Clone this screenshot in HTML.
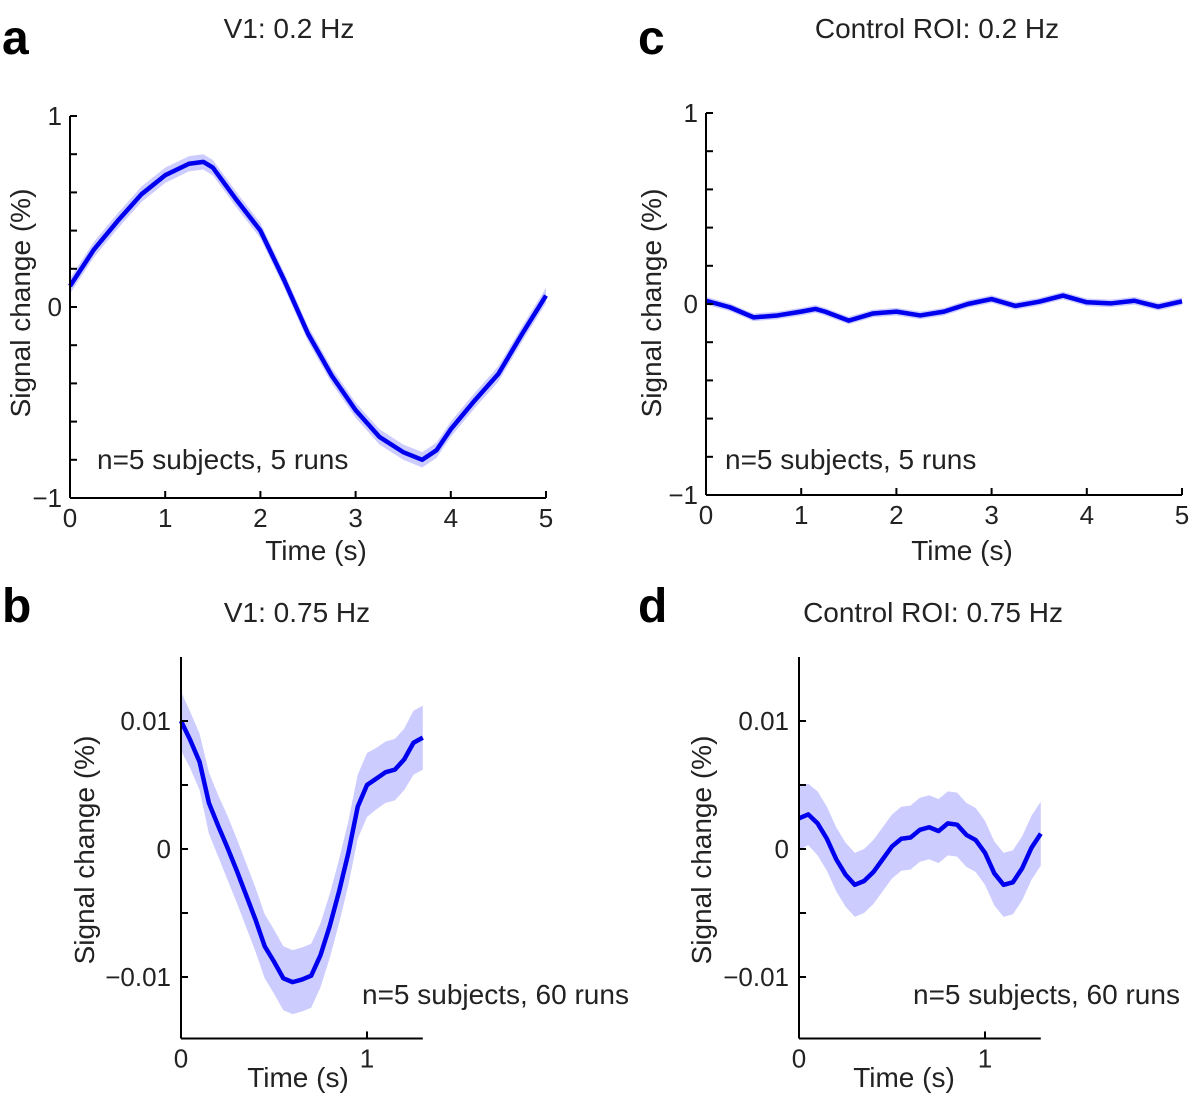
<!DOCTYPE html>
<html><head><meta charset="utf-8"><style>
body{margin:0;background:#fff;width:1198px;height:1102px;overflow:hidden}
svg text{font-family:"Liberation Sans",sans-serif;fill:#222}
</style></head><body>
<svg id="fig" width="1198" height="1102" xmlns="http://www.w3.org/2000/svg"></svg>
<script>
// Panel a (V1 0.2 Hz)
const aTime=[0,0.25,0.5,0.75,1.0,1.25,1.4,1.5,1.75,2.0,2.25,2.5,2.75,3.0,3.25,3.5,3.7,3.85,4.0,4.25,4.5,4.75,5.0];
const aMean=[0.11,0.30,0.45,0.59,0.69,0.75,0.76,0.73,0.56,0.40,0.14,-0.14,-0.36,-0.54,-0.68,-0.76,-0.80,-0.75,-0.64,-0.49,-0.35,-0.14,0.06];
const aErr=0.04;
// Panel c (Control 0.2 Hz)
const cTime=[0,0.25,0.5,0.75,1.0,1.15,1.25,1.5,1.75,2.0,2.25,2.5,2.75,3.0,3.25,3.5,3.75,4.0,4.25,4.5,4.75,5.0];
const cMean=[0.017,-0.017,-0.07,-0.06,-0.04,-0.026,-0.04,-0.087,-0.05,-0.04,-0.06,-0.04,0,0.026,-0.01,0.012,0.044,0.009,0.003,0.017,-0.014,0.014];
const cErr=0.02;
// Panel b (V1 0.75 Hz), units of %
const bTime=[0,0.05,0.1,0.15,0.2,0.25,0.3,0.35,0.4,0.45,0.5,0.55,0.6,0.65,0.7,0.75,0.8,0.85,0.9,0.95,1.0,1.05,1.1,1.15,1.2,1.25,1.3];
const bMean=[0.0100,0.0085,0.0068,0.0036,0.0018,0.0001,-0.0017,-0.0036,-0.0055,-0.0076,-0.0088,-0.0101,-0.0104,-0.0102,-0.0099,-0.0083,-0.0060,-0.0033,-0.0003,0.0033,0.0050,0.0055,0.0060,0.0062,0.0070,0.0083,0.0087];
const bErr=[0.0023,0.0022,0.0022,0.0024,0.0024,0.0025,0.0025,0.0025,0.0025,0.0025,0.0025,0.0025,0.0025,0.0025,0.0025,0.0025,0.0025,0.0025,0.0025,0.0025,0.0025,0.0024,0.0024,0.0024,0.0024,0.0025,0.0025];
// Panel d (Control 0.75 Hz)
const dTime=bTime;
const dMean=[0.0024,0.0027,0.0020,0.0008,-0.0008,-0.0020,-0.0028,-0.0025,-0.0018,-0.0008,0.0002,0.0008,0.0009,0.0015,0.0017,0.0014,0.0020,0.0019,0.0011,0.0007,-0.0003,-0.0019,-0.0028,-0.0026,-0.0015,0.0001,0.0012];
const dErr=[0.0025,0.0024,0.0025,0.0025,0.0025,0.0025,0.0025,0.0025,0.0025,0.0025,0.0025,0.0025,0.0025,0.0025,0.0025,0.0025,0.0025,0.0025,0.0025,0.0025,0.0025,0.0025,0.0025,0.0025,0.0025,0.0025,0.0025];
const bigYTicks=[-1,0,1];
const smallYTicks=[-0.01,0,0.01];

const NS="http://www.w3.org/2000/svg";
const svg=document.getElementById('fig');
function el(tag,attrs,parent){const e=document.createElementNS(NS,tag);for(const k in attrs)e.setAttribute(k,attrs[k]);(parent||svg).appendChild(e);return e;}
function txt(s,x,y,size,anchor,parent,extra){const t=el('text',Object.assign({x:x,y:y,'font-size':size,'text-anchor':anchor||'middle'},extra||{}),parent);t.textContent=s;return t;}
function fmt(v){if(v===0)return '0';return (v<0?'\u2212':'')+String(Math.abs(v));}

function panel(o){
  const g=el('g',{});
  
  
  const X=t=>o.x0+(t-o.tmin)*o.px;
  const Y=v=>o.yz-v*o.py;
  let up=[],lo=[];
  o.time.forEach((t,i)=>{const e=Array.isArray(o.err)?o.err[i]:o.err;up.push(X(t)+','+Y(o.mean[i]+e));lo.unshift(X(t)+','+Y(o.mean[i]-e));});
  const band=el('polygon',{points:up.concat(lo).join(' '),fill:'#ccccff',stroke:'none'},g);
  
  
  const line=el('polyline',{points:o.time.map((t,i)=>X(t)+','+Y(o.mean[i])).join(' '),fill:'none',stroke:'#0000ee','stroke-width':4.5,'stroke-linejoin':'round'},g);
  
  
  const ya=el('line',{x1:o.x0,y1:Y(o.ymax),x2:o.x0,y2:Y(o.ymin),stroke:'#000','stroke-width':2},g);
  
  
  const xa=el('line',{x1:o.x0,y1:Y(o.ymin),x2:X(o.tmax),y2:Y(o.ymin),stroke:'#000','stroke-width':2},g);
  
  
  o.minor.forEach(v=>el('line',{x1:o.x0,y1:Y(v),x2:o.x0+7,y2:Y(v),stroke:'#000','stroke-width':2},g));
  o.yticks.forEach(v=>{const t=txt(fmt(v),o.x0-o.lblOff,Y(v)+9,26,'end',g);});
  o.xticks.forEach(v=>{el('line',{x1:X(v),y1:Y(o.ymin),x2:X(v),y2:Y(o.ymin)-7,stroke:'#000','stroke-width':2},g);const t=txt(fmt(v),X(v),Y(o.ymin)+29,26,'middle',g);});
  const xl=txt('Time (s)',o.xlab[0],o.xlab[1],28,'middle',g);
  const yl=txt('Signal change (%)',0,0,28,'middle',g,{transform:'translate('+o.ylab[0]+','+o.ylab[1]+') rotate(-90)'});
  const n=txt(o.note,o.notePos[0],o.notePos[1],28,'start',g);
  const ti=txt(o.title,o.titlePos[0],o.titlePos[1],28,'middle',g);
  const L=txt(o.letter,o.letterPos[0],o.letterPos[1],48,'start',g,{'font-weight':'bold'});
  L.style.fill='#000';
}
const minorA=[-1,-0.8,-0.6,-0.4,-0.2,0,0.2,0.4,0.6,0.8,1];
const minorB=[-0.01,-0.005,0,0.005,0.01];
panel({name:'panel-a',x0:70,tmin:0,tmax:5,px:95.2,yz:307,py:191,ymin:-1,ymax:1,time:aTime,mean:aMean,err:aErr,minor:minorA,yticks:bigYTicks,xticks:[0,1,2,3,4,5],lblOff:8,xlab:[316,560],ylab:[30,303],note:'n=5 subjects, 5 runs',notePos:[97,469],title:'V1: 0.2 Hz',titlePos:[289,38],letter:'a',letterPos:[2,54]});
panel({name:'panel-c',x0:706,tmin:0,tmax:5,px:95.2,yz:304,py:191,ymin:-1,ymax:1,time:cTime,mean:cMean,err:cErr,minor:minorA,yticks:bigYTicks,xticks:[0,1,2,3,4,5],lblOff:8,xlab:[962,560],ylab:[661,303],note:'n=5 subjects, 5 runs',notePos:[725,469],title:'Control ROI: 0.2 Hz',titlePos:[937,38],letter:'c',letterPos:[638,54]});
panel({name:'panel-b',x0:181,tmin:0,tmax:1.3,px:186,yz:849,py:12800,ymin:-0.0148,ymax:0.0150,time:bTime,mean:bMean,err:bErr,minor:minorB,yticks:smallYTicks,xticks:[0,1],lblOff:10,xlab:[298,1087],ylab:[94,850],note:'n=5 subjects, 60 runs',notePos:[362,1004],title:'V1: 0.75 Hz',titlePos:[297,622],letter:'b',letterPos:[2,622]});
panel({name:'panel-d',x0:799,tmin:0,tmax:1.3,px:186,yz:849,py:12800,ymin:-0.0148,ymax:0.0150,time:dTime,mean:dMean,err:dErr,minor:minorB,yticks:smallYTicks,xticks:[0,1],lblOff:10,xlab:[904,1087],ylab:[711,850],note:'n=5 subjects, 60 runs',notePos:[913,1004],title:'Control ROI: 0.75 Hz',titlePos:[933,622],letter:'d',letterPos:[638,622]});
</script>
</body></html>
